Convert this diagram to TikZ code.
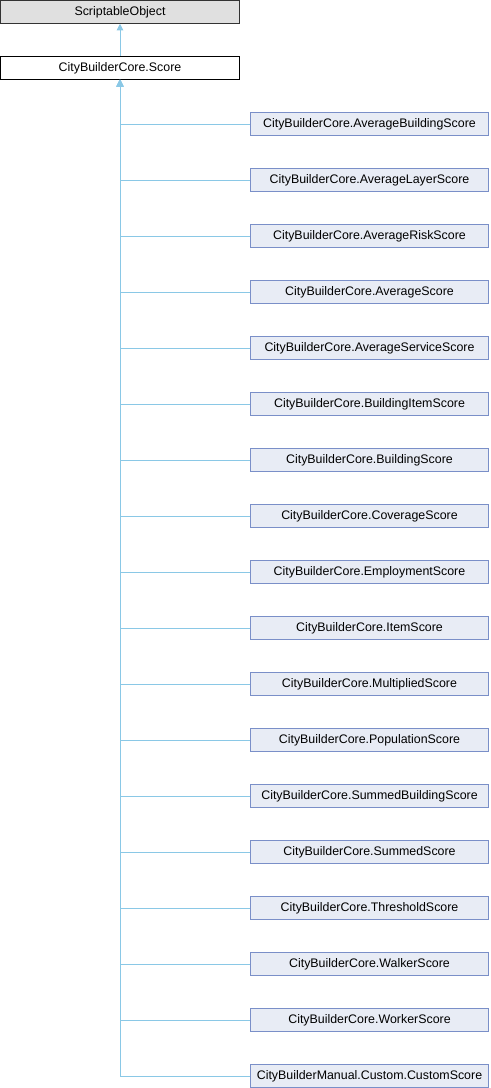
\documentclass[tikz,border=0pt]{standalone}
\usepackage{fontspec}
\setmainfont{Liberation Sans}
\usetikzlibrary{arrows.meta}
\definecolor{edgeblue}{RGB}{138,200,230}
\definecolor{classfill}{RGB}{232,236,245}
\definecolor{classline}{RGB}{122,143,200}
\definecolor{basefill}{RGB}{224,224,224}
\begin{document}
\begin{tikzpicture}[
  x=0.75pt, y=-0.75pt,
  every node/.style = {shape=rectangle, draw, inner sep=0pt,
    minimum height=17.25pt, font=\fontsize{9.3pt}{11pt}\selectfont},
  base/.style = {fill=basefill, draw=black!80, minimum width=179.25pt},
  score/.style = {fill=white, draw=black, minimum width=179.25pt},
  derived/.style = {fill=classfill, draw=classline, minimum width=178.5pt},
  inherit/.style = {draw=edgeblue, line width=0.75pt,
    {Triangle[width=5pt,length=5pt]}-}
  ]
  \useasboundingbox (0,0) rectangle (490,1088);
  \node[base] (scriptable) at (120,12) {ScriptableObject};
  \node[score] (score) at (120,68) {CityBuilderCore.Score};
  \node[derived] (avgbuilding) at (369.5,124) {CityBuilderCore.AverageBuildingScore};
  \node[derived] (avglayer) at (369.5,180) {CityBuilderCore.AverageLayerScore};
  \node[derived] (avgrisk) at (369.5,236) {CityBuilderCore.AverageRiskScore};
  \node[derived] (average) at (369.5,292) {CityBuilderCore.AverageScore};
  \node[derived] (avgservice) at (369.5,348) {CityBuilderCore.AverageServiceScore};
  \node[derived] (builditem) at (369.5,404) {CityBuilderCore.BuildingItemScore};
  \node[derived] (building) at (369.5,460) {CityBuilderCore.BuildingScore};
  \node[derived] (coverage) at (369.5,516) {CityBuilderCore.CoverageScore};
  \node[derived] (employment) at (369.5,572) {CityBuilderCore.EmploymentScore};
  \node[derived] (item) at (369.5,628) {CityBuilderCore.ItemScore};
  \node[derived] (multiplied) at (369.5,684) {CityBuilderCore.MultipliedScore};
  \node[derived] (population) at (369.5,740) {CityBuilderCore.PopulationScore};
  \node[derived] (sumbuilding) at (369.5,796) {CityBuilderCore.SummedBuildingScore};
  \node[derived] (summed) at (369.5,852) {CityBuilderCore.SummedScore};
  \node[derived] (threshold) at (369.5,908) {CityBuilderCore.ThresholdScore};
  \node[derived] (walker) at (369.5,964) {CityBuilderCore.WalkerScore};
  \node[derived] (worker) at (369.5,1020) {CityBuilderCore.WorkerScore};
  \node[derived] (custom) at (369.5,1076) {CityBuilderManual.Custom.CustomScore};

  \draw[inherit] (scriptable) -- (score);
  \draw[inherit] (score) |- (avgbuilding);
  \draw[inherit] (score) |- (avglayer);
  \draw[inherit] (score) |- (avgrisk);
  \draw[inherit] (score) |- (average);
  \draw[inherit] (score) |- (avgservice);
  \draw[inherit] (score) |- (builditem);
  \draw[inherit] (score) |- (building);
  \draw[inherit] (score) |- (coverage);
  \draw[inherit] (score) |- (employment);
  \draw[inherit] (score) |- (item);
  \draw[inherit] (score) |- (multiplied);
  \draw[inherit] (score) |- (population);
  \draw[inherit] (score) |- (sumbuilding);
  \draw[inherit] (score) |- (summed);
  \draw[inherit] (score) |- (threshold);
  \draw[inherit] (score) |- (walker);
  \draw[inherit] (score) |- (worker);
  \draw[inherit] (score) |- (custom);
\end{tikzpicture}
\end{document}
